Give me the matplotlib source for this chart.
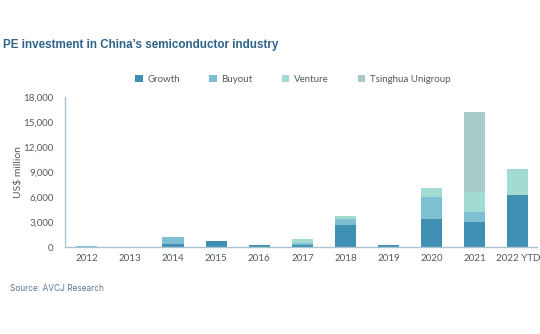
import matplotlib
matplotlib.use("Agg")
import matplotlib.pyplot as plt
import numpy as np

years = ["2012", "2013", "2014", "2015", "2016", "2017", "2018", "2019", "2020", "2021", "2022 YTD"]
growth = [40, 0, 400, 680, 280, 300, 2680, 250, 3400, 3000, 6200]
buyout = [90, 20, 800, 0, 0, 250, 750, 0, 2600, 1250, 0]
venture = [0, 0, 0, 0, 0, 450, 250, 0, 1130, 2400, 3200]
tsinghua = [0, 0, 0, 0, 0, 0, 0, 0, 0, 9500, 0]

series = [
    ("Growth", growth, "#3f8fb2"),
    ("Buyout", buyout, "#7ec0d2"),
    ("Venture", venture, "#a2dbd2"),
    ("Tsinghua Unigroup", tsinghua, "#a9cbc7"),
]

tick_font = "Lato"
axis_color = "#a9c3d3"
text_color = "#555a5e"

fig = plt.figure(figsize=(5.4, 3.34), dpi=100)
ax = fig.add_axes([0.120, 0.260, 0.875, 0.450])

x = np.arange(len(years))
bottom = np.zeros(len(years))
for name, vals, color in series:
    vals = np.array(vals, dtype=float)
    ax.bar(x, vals, width=0.49, bottom=bottom, color=color, label=name, linewidth=0)
    bottom += vals

ax.set_ylim(0, 18000)
ax.set_xlim(-0.51, 10.45)
ax.set_yticks(np.arange(0, 18001, 3000))
ax.set_yticklabels([f"{v:,}" for v in range(0, 18001, 3000)])
ax.set_xticks(x)
ax.set_xticklabels(years)
ax.tick_params(length=0, labelsize=7, labelcolor=text_color)
ax.tick_params(axis="y", pad=8)
ax.tick_params(axis="x", pad=5)
for lab in ax.get_xticklabels() + ax.get_yticklabels():
    lab.set_family(tick_font)

for side in ("top", "right"):
    ax.spines[side].set_visible(False)
for side in ("left", "bottom"):
    ax.spines[side].set_color(axis_color)
    ax.spines[side].set_linewidth(1.0)

ax.set_ylabel("US$ million", family=tick_font, fontsize=7.5, color=text_color)
ax.yaxis.set_label_coords(-0.088, 0.5)

leg = ax.legend(loc="lower left", bbox_to_anchor=(0.141, 1.06), ncol=4, frameon=False,
                prop={"family": tick_font, "size": 7}, handlelength=0.75, handleheight=0.75,
                handletextpad=0.5, columnspacing=3.0, borderaxespad=0)
for t in leg.get_texts():
    t.set_color(text_color)

fig.text(0.006, 0.865, "PE investment in China\u2019s semiconductor industry",
         family="Liberation Sans", fontweight="bold", fontsize=8.4, color="#2f6389", va="center")
fig.text(0.018, 0.135, "Source: AVCJ Research", family="Inter", fontsize=6,
         color="#5c7890", va="center")

fig.savefig("out.png", dpi=100)
